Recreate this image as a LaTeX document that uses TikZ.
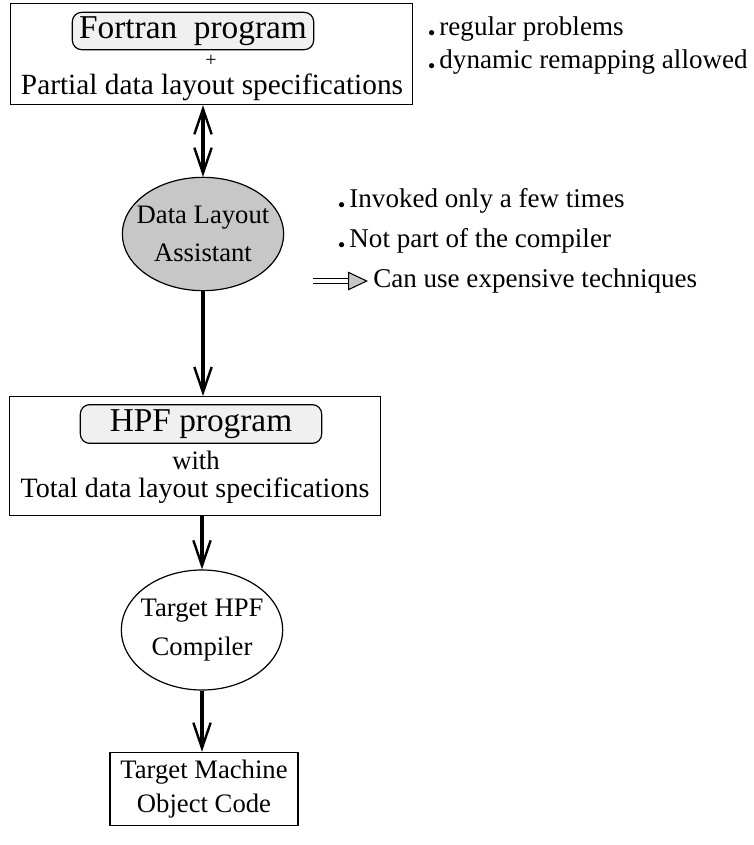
\documentclass[tikz,border=0pt]{standalone}
\usepackage{fontspec}
\setmainfont{Liberation Serif}
\usetikzlibrary{arrows.meta,shapes.geometric}

\tikzset{
  bigbox/.style={rectangle, draw, line width=0.9pt, inner sep=0pt},
  progbox/.style={rectangle, rounded corners=7pt, draw, line width=0.9pt, fill=gray!12, inner sep=0pt},
  tool/.style={ellipse, draw, line width=0.9pt, inner xsep=-12pt, inner ysep=0pt},
  line/.style={inner sep=0pt},
  barb/.tip={Straight Barb[length=19pt, width=13pt, line width=1.8pt]},
  flow/.style={line width=2.3pt, -barb},
  note/.style={anchor=west, inner sep=0pt, font=\fontsize{20.3}{24}\selectfont},
}
\newcommand{\dotitem}{{\fontsize{10}{10}\selectfont\raisebox{-0.8pt}{$\bullet$}}\,}

\begin{document}
\begin{tikzpicture}[x=0.75pt, y=-0.75pt, font=\fontsize{20}{24}\selectfont]
\useasboundingbox (0,0) rectangle (753,845);

% Fortran program + partial specifications
\node[bigbox, minimum width=302pt, minimum height=76pt] (input) at (211.5,54) {};
\node[progbox, minimum width=181pt, minimum height=28pt, font=\fontsize{25}{28}\selectfont] (fortran) at (193,31) {Fortran\ \ program};
\node[line, font=\fontsize{15}{18}\selectfont] (plus) at (211,61) {+};
\node[line, font=\fontsize{22}{24}\selectfont] (partial) at (212,87) {Partial data layout specifications};

\node[note] (reg) at (428,29) {\dotitem regular problems};
\node[note] (dyn) at (428,62) {\dotitem dynamic remapping allowed};

% assistant
\node[tool, fill=black!22, minimum width=121pt, minimum height=85pt, align=center] (dla) at (203,234) {Data Layout\\[5pt] Assistant};

\node[note] (inv) at (338,201) {\dotitem Invoked only a few times};
\node[note] (notp) at (338,241) {\dotitem Not part of the compiler};
\node[note] (exp) at (373,281) {Can use expensive techniques};
\coordinate (impA) at (313,281);
\coordinate (impB) at (368,281);

% HPF program + total specifications
\node[bigbox, minimum width=278pt, minimum height=89pt] (hpf) at (195,456) {};
\node[progbox, minimum width=181pt, minimum height=29pt, font=\fontsize{25}{28}\selectfont] (hpfprog) at (201,424) {HPF program};
\node[line] (with) at (196,460) {with};
\node[line, font=\fontsize{21}{24}\selectfont] (total) at (195,491) {Total data layout specifications};

% compiler and object code
\node[tool, minimum width=121pt, minimum height=90pt, align=center] (comp) at (202,630) {Target HPF\\[5pt] Compiler};
\node[bigbox, minimum width=141pt, minimum height=55pt, align=center] (obj) at (204,789) {Target Machine\\[1pt] Object Code};

\draw[flow, barb-barb] (dla.north) -- (dla.north |- input.south);
\draw[flow] (dla.south) -- (dla.south |- hpf.north);
\draw[flow] (comp.north |- hpf.south) -- (comp.north);
\draw[flow] (comp.south) -- (comp.south |- obj.north);

\draw[line width=0.8pt, double distance=3.5pt, -{Triangle[open, fill=black!22, length=15pt, width=14pt, line width=0.8pt]}] (impA) -- (impB);
\end{tikzpicture}
\end{document}
